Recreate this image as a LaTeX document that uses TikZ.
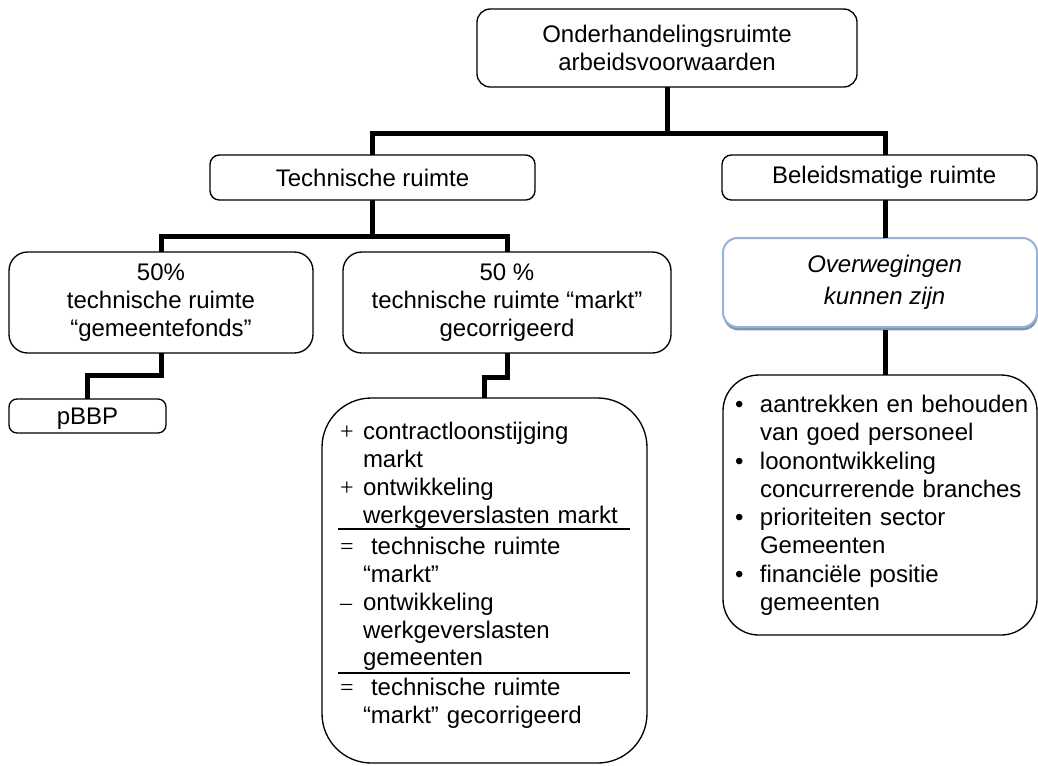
\documentclass[tikz,border=0pt]{standalone}
\usepackage{fontspec}
\setmainfont{Liberation Sans}
\newfontfamily\symfont{Liberation Serif}
\usetikzlibrary{shadows}
\definecolor{owborder}{RGB}{149,179,215}
\definecolor{owshadow}{RGB}{128,146,172}
\newcommand\opsym[1]{\makebox[17.25pt][l]{\symfont #1}}
\newcommand\blt{\makebox[18.75pt][l]{\textbullet}}
\begin{document}
\begin{tikzpicture}[x=0.75pt,y=-0.75pt,
  box/.style={draw,line width=1pt,rounded corners=#1,inner sep=0pt,outer sep=0pt,align=center,fill=white,
    font=\fontsize{18pt}{21pt}\selectfont},
  box/.default=8pt,
  conn/.style={line width=3.75pt},
  txt/.style={anchor=north west,inner sep=0pt,outer sep=0pt,align=left,text width=240pt}]
\useasboundingbox (0,0) rectangle (1038,765);

% boxes
\node[box=10pt,minimum width=285pt,minimum height=58.5pt] (top) at (667,48) {Onderhandelingsruimte\\arbeidsvoorwaarden};
\node[box=7pt,minimum width=243.75pt,minimum height=33.75pt] (tech) at (372.5,177.5) {Technische ruimte};
\node[box=7pt,minimum width=236.25pt,minimum height=33.75pt] (bel) at (879.5,177.5) {\hspace*{7pt}Beleidsmatige ruimte};
\node[box=14pt,minimum width=228pt,minimum height=75.75pt] (gf) at (161,302.5) {50\%\\technische ruimte\\“gemeentefonds”};
\node[box=14pt,minimum width=246pt,minimum height=75.75pt] (mk) at (507,302.5) {50 \%\\technische ruimte “markt”\\gecorrigeerd};
\node[box=6pt,minimum width=117.75pt,minimum height=25.5pt,text depth=0pt,text height=13pt] (pbbp) at (87.5,416) {pBBP};
\node[box=11pt,draw=owborder,line width=1.5pt,minimum width=235.5pt,minimum height=66.75pt,
  drop shadow={shadow xshift=0.5pt,shadow yshift=-2.5pt,fill=owshadow,opacity=1},
  font=\fontsize{18pt}{24pt}\selectfont\itshape] (ow) at (880,282.5) {\hspace*{7pt}Overwegingen\\\hspace*{7pt}kunnen zijn};
\node[box=37pt,minimum width=243.75pt,minimum height=273.75pt] (calc) at (484.5,580.5) {};
\node[box=27pt,minimum width=235.5pt,minimum height=195pt] (crit) at (880,505) {};

% text inside calculation box
\node[txt,font=\fontsize{18pt}{20.8pt}\selectfont] (c1) at (340,421.3)
  {\rule{0pt}{14pt}\opsym{+}contractloonstijging\\\opsym{}markt\\\opsym{+}ontwikkeling\\\opsym{}werkgeverslasten markt};
\node[txt,font=\fontsize{18pt}{20.8pt}\selectfont] (c2) at (340,536.3)
  {\rule{0pt}{14pt}\opsym{=} technische ruimte\\\opsym{}“markt”\\\opsym{–}ontwikkeling\\\opsym{}werkgeverslasten\\\opsym{}gemeenten};
\node[txt,font=\fontsize{18pt}{20.8pt}\selectfont] (c3) at (340,677.3)
  {\rule{0pt}{14pt}\opsym{=} technische ruimte\\\opsym{}“markt” gecorrigeerd};
\draw[line width=1.1pt] (338,529) -- (630,529);
\draw[line width=1.1pt] (338,673) -- (630,673);

% text inside criteria box
\node[txt,font=\fontsize{18pt}{21.2pt}\selectfont] (b1) at (735,393.8)
  {\rule{0pt}{14pt}\blt aantrekken en behouden\\\hspace*{18.75pt}van goed personeel\\\blt loonontwikkeling\\\hspace*{18.75pt}concurrerende branches\\\blt prioriteiten sector\\\hspace*{18.75pt}Gemeenten\\\blt financiële positie\\\hspace*{18.75pt}gemeenten};

% connectors
\coordinate (j1) at (667,133);
\coordinate (rx) at (885,0);
\coordinate (j2) at (372.5,236);
\draw[conn] (top.south) -- (j1);
\draw[conn] (tech.north) |- (j1) -| (rx |- bel.north);
\draw[conn] (bel.south -| rx) -- (ow.north -| rx);
\draw[conn] ([yshift=-2pt]ow.south -| rx) -- (crit.north -| rx);
\draw[conn] (tech.south) -- (j2);
\draw[conn] (gf.north) |- (j2) -| (mk.north);
\draw[conn] (gf.south) -- ++(0,22) -| (pbbp.north);
\draw[conn] (mk.south) -- ++(0,24) -| (calc.north);
\end{tikzpicture}
\end{document}
